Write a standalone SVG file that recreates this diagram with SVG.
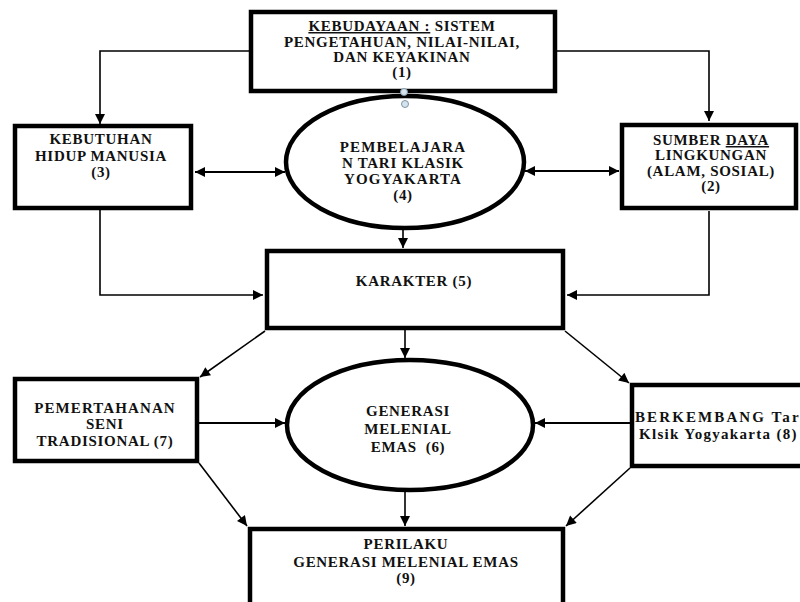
<svg xmlns="http://www.w3.org/2000/svg" width="800" height="602" viewBox="0 0 800 602">
<style>
  .box { fill: #ffffff; stroke: #000000; stroke-width: 4.5; }
  .ell { fill: #ffffff; stroke: #000000; stroke-width: 4.5; }
  .t { font-family: "Liberation Serif", "Times New Roman", serif; font-weight: bold; font-size: 15px; fill: #111111; text-anchor: middle; letter-spacing: 0.7px; }
  .ts { text-anchor: start; }
  .c { fill: none; stroke: #000000; stroke-width: 1.6; }
  .c2 { fill: none; stroke: #000000; stroke-width: 2.2; }
  .u { text-decoration: underline; }
  .h { fill: #d5e3ec; stroke: #7f95a6; stroke-width: 1; }
</style>
<defs>
  <marker id="arr" viewBox="0 0 10 10" refX="10" refY="5" markerWidth="11" markerHeight="10" markerUnits="userSpaceOnUse" orient="auto-start-reverse">
    <path d="M0,0 L10,5 L0,10 z" fill="#000000"/>
  </marker>
</defs>
<rect width="800" height="602" fill="#ffffff"/>

<g id="connectors">
  <path class="c" d="M251,51 H100 V124" marker-end="url(#arr)"/>
  <path class="c" d="M555,51 H709 V121" marker-end="url(#arr)"/>
  <path class="c2" d="M195,172 H285" marker-start="url(#arr)" marker-end="url(#arr)"/>
  <path class="c2" d="M525,171 H619" marker-start="url(#arr)" marker-end="url(#arr)"/>
  <path class="c" d="M403,228 V248" marker-end="url(#arr)"/>
  <path class="c" d="M100,210 V295 H263" marker-end="url(#arr)"/>
  <path class="c" d="M709,211 V295 H567" marker-end="url(#arr)"/>
  <path class="c" d="M405,330 V358" marker-end="url(#arr)"/>
  <path class="c" d="M265,331 L200,377" marker-end="url(#arr)"/>
  <path class="c" d="M565,331 L629,383" marker-end="url(#arr)"/>
  <path class="c2" d="M199,423 H285" marker-end="url(#arr)"/>
  <path class="c2" d="M630,423 H535" marker-end="url(#arr)"/>
  <path class="c" d="M199,463 L247,526" marker-end="url(#arr)"/>
  <path class="c" d="M630,468 L566,526" marker-end="url(#arr)"/>
  <path class="c" d="M405,490 V526" marker-end="url(#arr)"/>
</g>

<g id="node1">
  <rect class="box" x="251" y="12" width="304" height="79"/>
  <text class="t" x="402" y="31"><tspan class="u">KEBUDAYAAN :</tspan> SISTEM</text>
  <text class="t" x="402" y="47">PENGETAHUAN, NILAI-NILAI,</text>
  <text class="t" x="402" y="62">DAN KEYAKINAN</text>
  <text class="t" x="402" y="77">(1)</text>
</g>

<g id="node3">
  <rect class="box" x="15" y="126" width="176" height="82"/>
  <text class="t" x="101" y="144">KEBUTUHAN</text>
  <text class="t" x="101" y="161">HIDUP MANUSIA</text>
  <text class="t" x="101" y="177">(3)</text>
</g>

<g id="node2">
  <rect class="box" x="622" y="125" width="174" height="83"/>
  <text class="t" x="711" y="145">SUMBER <tspan class="u">DAYA</tspan></text>
  <text class="t" x="711" y="160">LINGKUNGAN</text>
  <text class="t" x="711" y="176">(ALAM, SOSIAL)</text>
  <text class="t" x="711" y="191">(2)</text>
</g>

<g id="node4">
  <ellipse class="ell" cx="405" cy="162" rx="119" ry="66"/>
  <text class="t" x="403" y="152" style="letter-spacing:1.1px">PEMBELAJARA</text>
  <text class="t" x="403" y="168">N TARI KLASIK</text>
  <text class="t" x="403" y="184" style="letter-spacing:1.1px">YOGYAKARTA</text>
  <text class="t" x="403" y="200">(4)</text>
  <circle class="h" cx="404" cy="92" r="3.5"/>
  <circle class="h" cx="405" cy="104" r="3.5"/>
</g>

<g id="node5">
  <rect class="box" x="267" y="251" width="296" height="77"/>
  <text class="t" x="414" y="286">KARAKTER (5)</text>
</g>

<g id="node7">
  <rect class="box" x="15" y="379" width="182" height="82"/>
  <text class="t" x="105" y="413" style="letter-spacing:1.1px">PEMERTAHANAN</text>
  <text class="t" x="105" y="429">SENI</text>
  <text class="t" x="105" y="446">TRADISIONAL (7)</text>
</g>

<g id="node6">
  <ellipse class="ell" cx="410" cy="425" rx="123" ry="65"/>
  <text class="t" x="408" y="416">GENERASI</text>
  <text class="t" x="408" y="434">MELENIAL</text>
  <text class="t" x="408" y="452" style="white-space:pre">EMAS  (6)</text>
</g>

<g id="node8">
  <rect class="box" x="632" y="385" width="200" height="81"/>
  <text class="t ts" x="635" y="422" style="letter-spacing:2.1px">BERKEMBANG Tar</text>
  <text class="t ts" x="639" y="439" style="letter-spacing:1.3px">Klsik Yogyakarta (8)</text>
</g>

<g id="node9">
  <rect class="box" x="250" y="529" width="313" height="100"/>
  <text class="t" x="406" y="549">PERILAKU</text>
  <text class="t" x="406" y="567">GENERASI MELENIAL EMAS</text>
  <text class="t" x="406" y="583">(9)</text>
</g>
</svg>
